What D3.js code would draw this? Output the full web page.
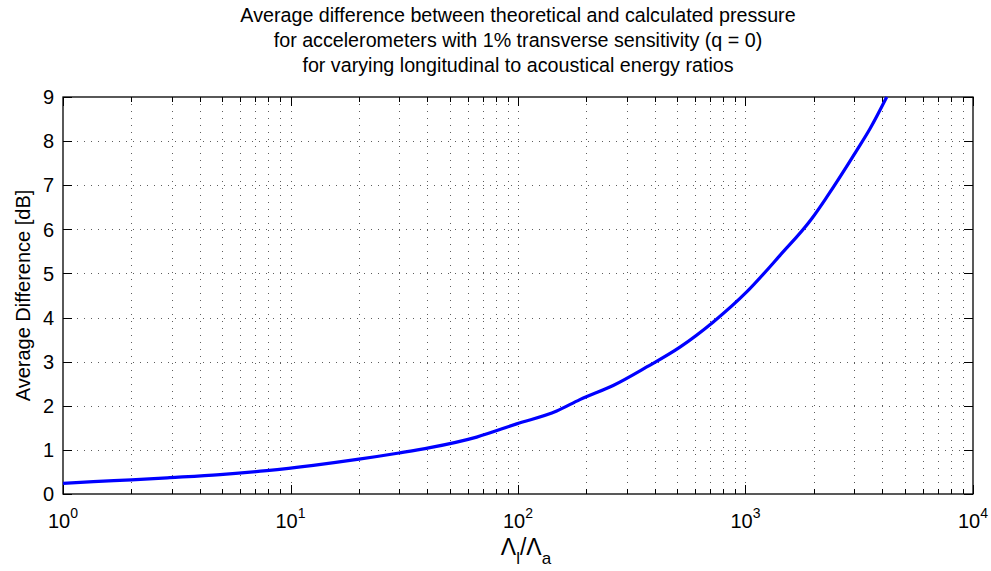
<!DOCTYPE html>
<html>
<head>
<meta charset="utf-8">
<script src="https://cdn.jsdelivr.net/npm/d3@7"></script>
<style>
  body { margin: 0; background: #fff; }
  text { font-family: "Liberation Sans", Arial, sans-serif; fill: #000; }
</style>
</head>
<body>
<svg id="chart"></svg>
<script>
// energy ratio (Λl/Λa) and average difference [dB]
const ratio = [1, 1.36, 2, 2.95, 4.9, 7.86, 12.6, 20, 30, 41, 65.8, 98.7, 148, 187, 262, 368, 515, 722, 1012, 1418, 1954, 2275, 3083, 3525, 4176];
const avgDiff = [0.24, 0.28, 0.32, 0.37, 0.44, 0.53, 0.65, 0.79, 0.93, 1.05, 1.29, 1.59, 1.88, 2.14, 2.46, 2.88, 3.33, 3.90, 4.58, 5.41, 6.24, 6.73, 7.79, 8.28, 9.0];
const yTicks = [0, 1, 2, 3, 4, 5, 6, 7, 8, 9];
const xDecades = [0, 1, 2, 3, 4];
const titleLines = [
    "Average difference between theoretical and calculated pressure",
    "for accelerometers with 1% transverse sensitivity (q = 0)",
    "for varying longitudinal to acoustical energy ratios"
];

const W = 991, H = 571;
const margin = { top: 97, right: 18, bottom: 77, left: 63 };
const width = W - margin.left - margin.right;
const height = H - margin.top - margin.bottom;

const svg = d3.select("#chart").attr("width", W).attr("height", H);
const g = svg.append("g").attr("transform", `translate(${margin.left},${margin.top})`);

const x = d3.scaleLog().domain([1, 1e4]).range([0, width]);
const y = d3.scaleLinear().domain([0, 9]).range([height, 0]);

// minor + major x positions
let xMinor = [];
xDecades.slice(0, -1).forEach(e => {
    for (let k = 2; k <= 9; k++) xMinor.push(k * Math.pow(10, e));
});
const xMajor = xDecades.map(e => Math.pow(10, e));

// grid
const grid = g.append("g")
    .attr("stroke", "#333")
    .attr("stroke-width", 0.8)
    .attr("stroke-dasharray", "1,6");
grid.selectAll("line.gx")
    .data(xMajor.concat(xMinor).filter(v => v > 1 && v < 1e4))
    .join("line")
    .attr("class", "gx")
    .attr("x1", d => Math.round(x(d)) + 0.5).attr("x2", d => Math.round(x(d)) + 0.5)
    .attr("y1", 0).attr("y2", height);
grid.selectAll("line.gy")
    .data(yTicks.filter(v => v > 0 && v < 9))
    .join("line")
    .attr("class", "gy")
    .attr("x1", 0).attr("x2", width)
    .attr("y1", d => Math.round(y(d)) + 0.5).attr("y2", d => Math.round(y(d)) + 0.5);

// ticks on all four sides, pointing inward
const ticks = g.append("g").attr("stroke", "#000").attr("stroke-width", 1);
const tickSets = [
    { vals: xMajor, len: 9 },
    { vals: xMinor, len: 5 }
];
tickSets.forEach(s => {
    s.vals.forEach(v => {
        const px = Math.round(x(v)) + 0.5;
        ticks.append("line").attr("x1", px).attr("x2", px).attr("y1", height).attr("y2", height - s.len);
        ticks.append("line").attr("x1", px).attr("x2", px).attr("y1", 0).attr("y2", s.len);
    });
});
yTicks.forEach(v => {
    const py = Math.round(y(v)) + 0.5;
    ticks.append("line").attr("x1", 0).attr("x2", 9).attr("y1", py).attr("y2", py);
    ticks.append("line").attr("x1", width).attr("x2", width - 9).attr("y1", py).attr("y2", py);
});

// frame
g.append("rect")
    .attr("width", width).attr("height", height)
    .attr("fill", "none").attr("stroke", "#000").attr("stroke-width", 1.3);

// y tick labels
g.selectAll("text.ylab")
    .data(yTicks)
    .join("text")
    .attr("class", "ylab")
    .attr("x", -9)
    .attr("y", d => y(d))
    .attr("dy", "0.36em")
    .attr("text-anchor", "end")
    .style("font-size", "20px")
    .text(d => d);

// x tick labels 10^n
const xl = g.selectAll("text.xlab")
    .data(xDecades)
    .join("text")
    .attr("class", "xlab")
    .attr("x", d => x(Math.pow(10, d)))
    .attr("y", height + 34)
    .attr("text-anchor", "middle")
    .style("font-size", "20px");
xl.append("tspan").text("10");
xl.append("tspan").attr("dy", -10).style("font-size", "14px").text(d => d);

// curve
const pts = ratio.map((r, i) => [r, avgDiff[i]]);
g.append("path")
    .datum(pts)
    .attr("fill", "none")
    .attr("stroke", "#0000ff")
    .attr("stroke-width", 3.2)
    .attr("stroke-linejoin", "round")
    .attr("d", d3.line().curve(d3.curveMonotoneX).x(d => x(d[0])).y(d => y(d[1])));

// title
svg.selectAll("text.title")
    .data(titleLines)
    .join("text")
    .attr("class", "title")
    .attr("x", margin.left + width / 2)
    .attr("y", (d, i) => 22 + i * 25)
    .attr("text-anchor", "middle")
    .style("font-size", "19.7px")
    .text(d => d);

// y label
svg.append("text")
    .attr("transform", `translate(30, ${margin.top + height / 2}) rotate(-90)`)
    .attr("text-anchor", "middle")
    .style("font-size", "20px")
    .text("Average Difference [dB]");

// x label: Λl/Λa
const xt = svg.append("text")
    .attr("x", margin.left + width / 2 + 8)
    .attr("y", 555)
    .attr("text-anchor", "middle")
    .style("font-size", "23px");
xt.append("tspan").text("Λ");
xt.append("tspan").attr("dy", 9).style("font-size", "17px").text("l");
xt.append("tspan").attr("dy", -9).text("/Λ");
xt.append("tspan").attr("dy", 9).style("font-size", "17px").text("a");
</script>
</body>
</html>
